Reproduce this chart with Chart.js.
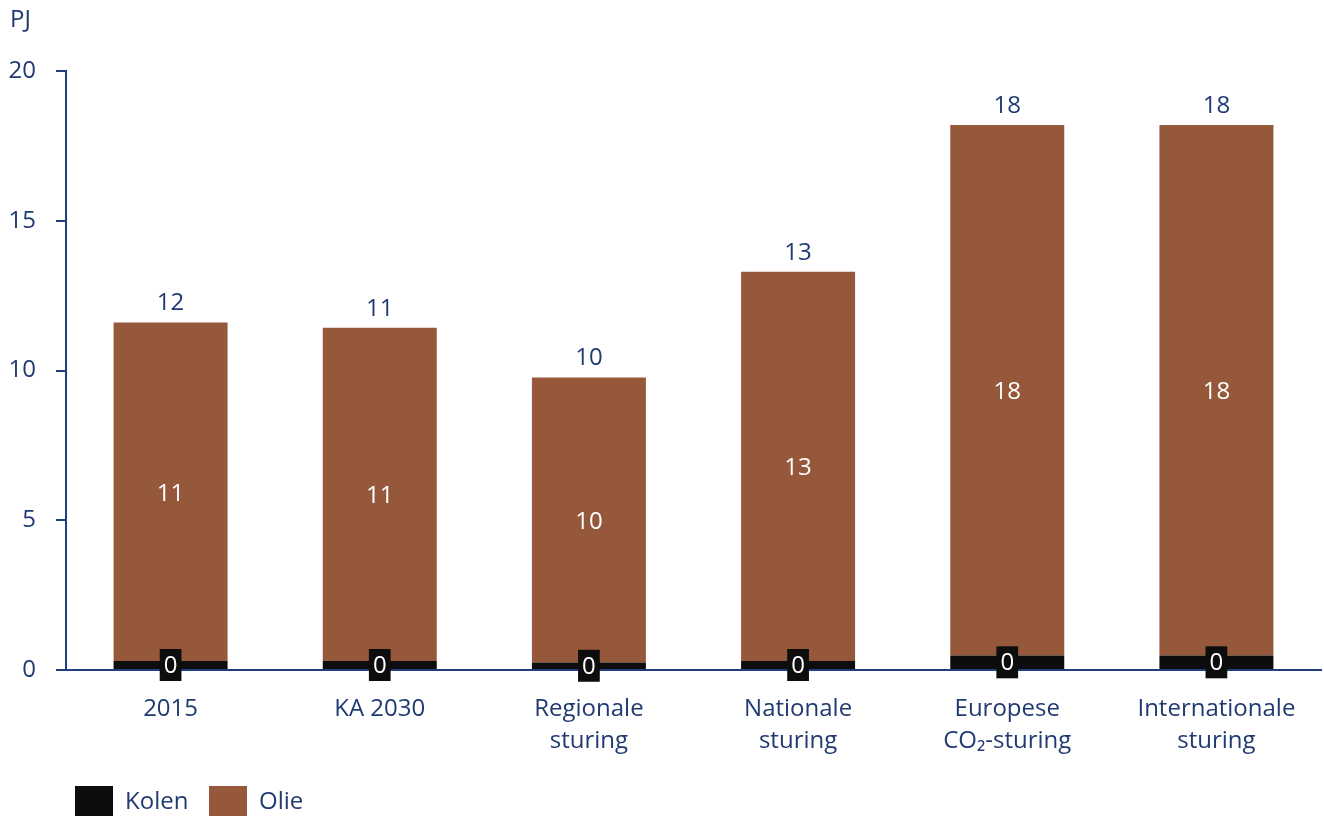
<!DOCTYPE html>
<html>
<head>
<meta charset="utf-8">
<script src="https://cdn.jsdelivr.net/npm/chart.js@4.4.1/dist/chart.umd.min.js"></script>
<style>
html,body{margin:0;padding:0;background:#fff;}
#wrap{width:1324px;height:818px;}
</style>
</head>
<body>
<div id="wrap"><canvas id="c" width="1324" height="818"></canvas></div>
<script>
const categories = [["2015"], ["KA 2030"], ["Regionale", "sturing"], ["Nationale", "sturing"], ["Europese", "CO₂-sturing"], ["Internationale", "sturing"]];
const kolen = [0.3, 0.3, 0.25, 0.3, 0.48, 0.48];
const olie = [11.3, 11.13, 9.52, 13.0, 17.72, 17.72];
const yTicks = [0, 5, 10, 15, 20];
const unitLabel = "PJ";

const NAVY = "#203A72";
const AXIS = "#1F3F7F";
const BROWN = "#96583A";
const BLACK = "#0D0D0D";
const FONT = "'Open Sans', 'Noto Sans', sans-serif";
const FS = 24;

const labelsPlugin = {
  id: 'labelsPlugin',
  afterDatasetsDraw(chart) {
    const ctx = chart.ctx;
    const m0 = chart.getDatasetMeta(0);
    const m1 = chart.getDatasetMeta(1);
    ctx.save();
    ctx.font = FS + "px " + FONT;
    ctx.textAlign = 'center';
    ctx.textBaseline = 'middle';
    for (let i = 0; i < categories.length; i++) {
      const b0 = m0.data[i], b1 = m1.data[i];
      ctx.fillStyle = '#FFFFFF';
      ctx.fillText(String(Math.round(olie[i])), b1.x, (b1.y + b1.base) / 2 + 2);
      ctx.fillStyle = NAVY;
      ctx.fillText(String(Math.round(kolen[i] + olie[i])), b1.x, b1.y - 19);
      const t = String(Math.round(kolen[i]));
      const w = ctx.measureText(t).width + 8;
      const cy = (b0.y + b0.base) / 2;
      ctx.fillStyle = BLACK;
      ctx.fillRect(b0.x - w / 2, cy - 16, w, 32);
      ctx.fillStyle = '#FFFFFF';
      ctx.fillText(t, b0.x, cy + 1);
    }
    ctx.textAlign = 'left';
    ctx.fillStyle = NAVY;
    ctx.font = "24px " + FONT;
    ctx.fillText(unitLabel, 10, 20);
    ctx.restore();
  },
  afterDraw(chart) {
    const ctx = chart.ctx;
    ctx.save();
    ctx.font = FS + "px " + FONT;
    ctx.textAlign = 'left';
    ctx.textBaseline = 'middle';
    const starts = [75, 209];
    chart.data.datasets.forEach((ds, i) => {
      const x = starts[i];
      ctx.fillStyle = ds.backgroundColor;
      ctx.fillRect(x, 786, 38, 30);
      ctx.fillStyle = NAVY;
      ctx.fillText(ds.label, x + 50, 802);
    });
    ctx.restore();
  }
};

new Chart(document.getElementById('c'), {
  type: 'bar',
  data: {
    labels: categories,
    datasets: [
      { label: 'Kolen', data: kolen, backgroundColor: BLACK, borderWidth: 0 },
      { label: 'Olie', data: olie, backgroundColor: BROWN, borderWidth: 0 }
    ]
  },
  options: {
    responsive: false,
    animation: false,
    devicePixelRatio: 1,
    layout: { padding: { left: 0, top: 71, right: 3, bottom: 0 } },
    datasets: { bar: { categoryPercentage: 1, barPercentage: 0.545 } },
    plugins: {
      legend: { display: false },
      tooltip: { enabled: false },
      title: { display: false }
    },
    scales: {
      x: {
        stacked: true,
        grid: { display: false, drawTicks: false },
        border: { color: AXIS, width: 2 },
        ticks: { color: NAVY, font: { family: FONT, size: 24, lineHeight: 1.33 }, padding: 23, maxRotation: 0, autoSkip: false },
        afterFit(s) { s.height = 148; }
      },
      y: {
        stacked: true,
        min: 0, max: 20,
        afterBuildTicks(s) { s.ticks = yTicks.map(v => ({ value: v })); },
        grid: { drawOnChartArea: false, drawTicks: true, tickLength: 10, color: AXIS, lineWidth: 2 },
        border: { color: AXIS, width: 2 },
        ticks: { color: NAVY, font: { family: FONT, size: 24 }, padding: 20 },
        afterFit(s) { s.width = 66; }
      }
    }
  },
  plugins: [labelsPlugin]
});
</script>
</body>
</html>
